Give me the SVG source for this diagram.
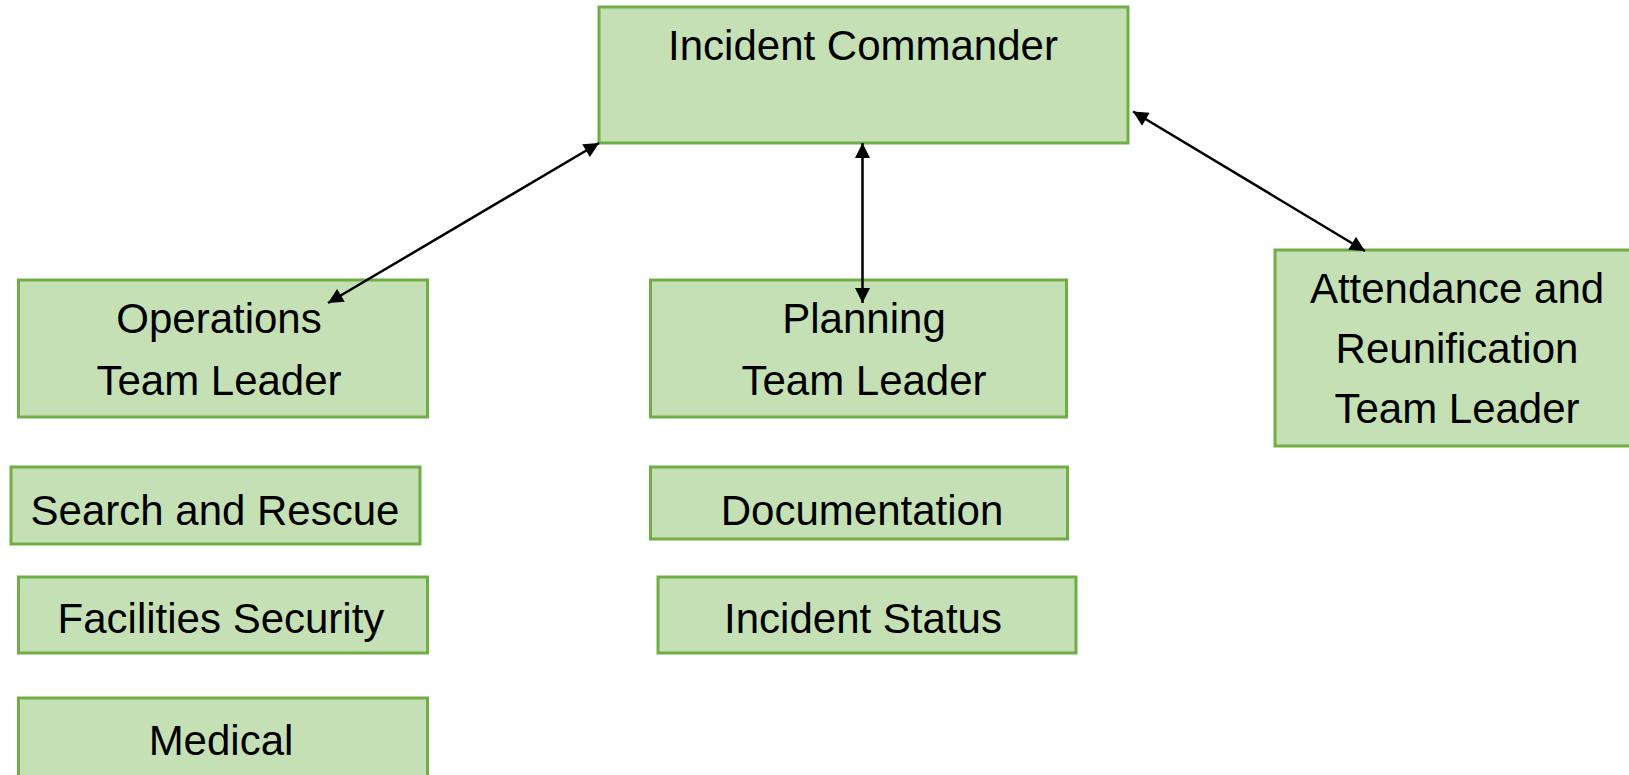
<svg xmlns="http://www.w3.org/2000/svg" width="1629" height="775" viewBox="0 0 1629 775">
<style>
.box{fill:#C5E0B4;stroke:#70AD47;stroke-width:3}
.t{font-family:"Liberation Sans",Arial,sans-serif;font-size:42px;fill:#000;text-anchor:middle}
.c{stroke:#000;stroke-width:2.5;fill:none;marker-start:url(#ah);marker-end:url(#ah)}
</style>
<defs>
<marker id="ah" viewBox="0 0 10 10" refX="10" refY="5" markerWidth="6.5" markerHeight="6" orient="auto-start-reverse" markerUnits="strokeWidth">
<path d="M0,0 L10,5 L0,10 z" fill="#000"/>
</marker>
</defs>
<rect width="1629" height="775" fill="#fff"/>
<g id="incident-commander">
<rect class="box" x="599" y="7" width="529" height="136"/>
<text class="t" x="863" y="60">Incident Commander</text>
</g>
<g id="operations">
<rect class="box" x="18.5" y="280" width="409" height="137"/>
<text class="t" x="219" y="333">Operations</text>
<text class="t" x="219" y="395">Team Leader</text>
</g>
<g id="planning">
<rect class="box" x="650.5" y="280" width="416" height="137"/>
<text class="t" x="864" y="333">Planning</text>
<text class="t" x="864" y="395">Team Leader</text>
</g>
<g id="attendance">
<rect class="box" x="1275" y="250" width="356" height="196"/>
<text class="t" x="1457" y="303">Attendance and</text>
<text class="t" x="1457" y="363">Reunification</text>
<text class="t" x="1457" y="423">Team Leader</text>
</g>
<g id="search-rescue">
<rect class="box" x="11" y="467" width="409" height="77"/>
<text class="t" x="215" y="525">Search and Rescue</text>
</g>
<g id="facilities-security">
<rect class="box" x="18.5" y="577" width="409" height="76"/>
<text class="t" x="221" y="633">Facilities Security</text>
</g>
<g id="medical">
<rect class="box" x="18.5" y="698" width="409" height="90"/>
<text class="t" x="221" y="755">Medical</text>
</g>
<g id="documentation">
<rect class="box" x="650.5" y="467" width="417" height="72"/>
<text class="t" x="862" y="525">Documentation</text>
</g>
<g id="incident-status">
<rect class="box" x="658" y="577" width="418" height="76"/>
<text class="t" x="863" y="633">Incident Status</text>
</g>
<g id="connectors">
<line class="c" x1="328" y1="303" x2="599" y2="143"/>
<line class="c" x1="862.5" y1="143" x2="862.5" y2="303"/>
<line class="c" x1="1133" y1="111.5" x2="1365" y2="251"/>
</g>
</svg>
